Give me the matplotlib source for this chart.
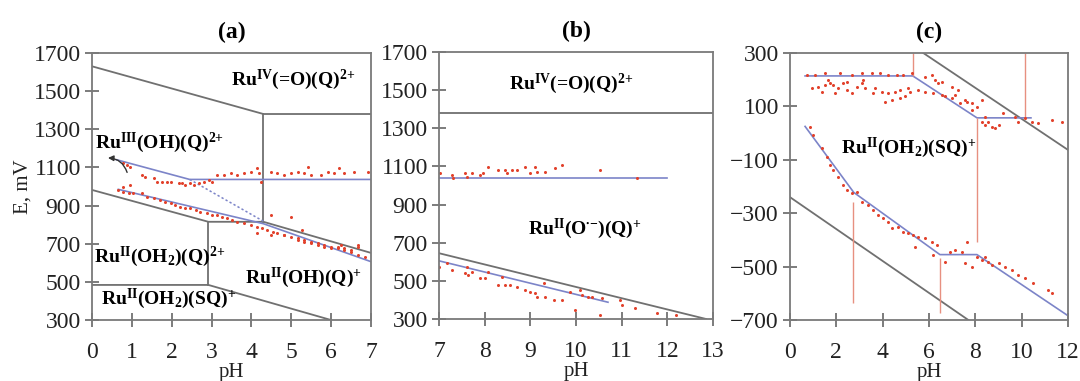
import matplotlib
matplotlib.use('Agg')
import matplotlib.pyplot as plt

plt.rcParams['font.family'] = ['Liberation Serif', 'DejaVu Serif']
plt.rcParams['mathtext.fontset'] = 'custom'
plt.rcParams['mathtext.rm'] = 'Liberation Serif'
plt.rcParams['mathtext.bf'] = 'Liberation Serif:bold'
plt.rcParams['mathtext.it'] = 'Liberation Serif:italic'

# ---- panel (a) data ----
a_up_x = [0.79, 0.87, 0.96, 1.25, 1.34, 1.55, 1.63, 1.76, 1.88, 1.97, 2.18, 2.26, 2.34, 2.47, 2.55, 2.68,
          2.80, 2.93, 3.02, 3.14, 3.31, 3.48, 3.64, 3.81, 3.98, 4.15, 4.19, 4.23, 4.48, 4.65, 4.82, 4.99,
          5.16, 5.32, 5.41, 5.49, 5.74, 5.91, 6.08, 6.21, 6.33, 6.58, 6.92, 0.79, 0.96]
a_up_y = [1122, 1113, 1104, 1060, 1052, 1043, 1025, 1025, 1025, 1025, 1017, 1017, 1008, 1017, 1008, 1017,
          1025, 1034, 1025, 1060, 1060, 1069, 1060, 1069, 1078, 1095, 1069, 1025, 1078, 1069, 1060, 1069,
          1078, 1069, 1104, 1060, 1060, 1078, 1069, 1095, 1069, 1078, 1078, 999, 1008]
a_lo_x = [0.66, 0.79, 0.92, 1.04, 1.25, 1.38, 1.55, 1.71, 1.84, 1.97, 2.09, 2.22, 2.34, 2.47, 2.60, 2.72,
          2.89, 3.02, 3.14, 3.27, 3.39, 3.52, 3.64, 3.81, 3.98, 4.15, 4.27, 4.40, 4.48, 4.53, 4.65, 4.82,
          4.99, 4.99, 5.16, 5.28, 5.32, 5.49, 5.66, 5.83, 5.99, 6.16, 6.33, 6.50, 6.67, 4.15, 4.48, 4.82,
          5.16, 5.32, 5.49, 5.66, 5.83, 5.99, 6.16, 6.33, 6.50, 6.67, 6.84, 6.25, 6.67]
a_lo_y = [982, 973, 964, 964, 964, 947, 938, 929, 920, 912, 903, 894, 885, 885, 877, 868,
          859, 851, 851, 842, 833, 824, 816, 807, 798, 789, 781, 772, 851, 763, 754, 746,
          842, 737, 728, 772, 719, 711, 702, 693, 684, 676, 676, 667, 684, 755, 746, 746,
          720, 711, 702, 693, 685, 676, 685, 667, 658, 641, 632, 693, 693]

# ---- panel (b) data ----
b_up_x = [7.02, 7.28, 7.31, 7.57, 7.61, 7.72, 7.90, 7.97, 8.08, 8.30, 8.45, 8.48, 8.59, 8.70, 8.89, 8.99,
          9.11, 9.14, 9.32, 9.54, 9.69, 10.53, 11.33]
b_up_y = [1064, 1055, 1037, 1064, 1046, 1064, 1055, 1064, 1099, 1081, 1081, 1064, 1081, 1081, 1099, 1064,
          1099, 1072, 1072, 1090, 1107, 1081, 1037]
b_lo_x = [6.99, 7.18, 7.28, 7.61, 7.57, 7.64, 7.72, 7.90, 8.01, 8.08, 8.30, 8.37, 8.45, 8.56, 8.70, 8.89,
          8.99, 9.11, 9.14, 9.32, 9.51, 9.69, 9.29, 9.87, 9.98, 10.09, 10.13, 10.27, 10.35, 10.53, 10.57,
          10.97, 11.01, 11.30, 11.77, 12.18]
b_lo_y = [574, 592, 557, 574, 539, 530, 548, 513, 513, 548, 478, 522, 478, 478, 469, 452,
          443, 434, 417, 417, 399, 399, 487, 443, 347, 452, 426, 417, 417, 321, 408,
          399, 373, 356, 330, 321]

# ---- panel (c) data ----
c_up_x = [0.72, 1.08, 1.51, 2.16, 2.66, 3.09, 3.53, 3.89, 4.24, 4.60, 4.89, 5.25,
          0.94, 1.22, 1.37, 1.51, 1.73, 1.87, 1.94, 2.09, 2.30, 2.45, 2.66, 2.88, 3.09, 3.24, 3.60, 3.67,
          3.96, 4.24, 4.53, 4.75, 5.11, 5.18, 5.54, 5.83, 6.19, 6.55, 6.69, 6.98, 4.10, 4.39, 4.75, 4.96,
          1.65, 2.45, 3.17,
          5.83, 6.12, 6.40, 6.55, 6.98, 7.27, 7.55, 7.63, 7.84, 8.06, 8.27, 7.84, 8.42, 8.56, 8.71, 8.85,
          9.00, 8.27, 8.42, 9.21, 9.71, 10.14, 10.43, 10.72, 11.30, 11.73, 9.86, 6.26, 7.12, 7.34]
c_up_y = [218, 218, 224, 224, 218, 224, 224, 224, 218, 218, 218, 224,
          168, 174, 155, 180, 186, 180, 149, 168, 186, 161, 149, 174, 186, 168, 149, 168,
          155, 149, 155, 161, 168, 155, 161, 155, 149, 143, 137, 130, 118, 124, 130, 137,
          199, 193, 199,
          211, 218, 186, 193, 174, 161, 124, 118, 112, 99, 124, 87, 62, 43, 24, 18,
          30, 43, 30, 74, 62, 55, 43, 37, 49, 43, 43, 199, 143, 112]
c_lo_x = [0.86, 1.01, 1.37, 1.58, 1.73, 1.87, 2.09, 2.30, 2.45, 2.66, 2.88, 3.09, 3.38, 3.60, 3.81, 4.03,
          4.24, 4.39, 4.68, 4.89, 5.11, 5.32, 5.40, 5.54, 5.83, 6.12, 6.33, 6.19, 6.69, 6.91, 7.12, 7.41,
          7.63, 7.55, 7.84, 8.06, 8.27, 8.42, 8.56, 8.71, 9.00, 9.28, 9.57, 9.86, 10.14, 10.50, 11.15, 11.30]
c_lo_y = [24, -7, -57, -88, -119, -138, -163, -194, -213, -226, -219, -257, -269, -288, -307, -319,
          -332, -357, -350, -369, -375, -381, -425, -388, -394, -406, -419, -456, -481, -444, -438, -444,
          -406, -488, -500, -463, -475, -463, -481, -494, -488, -500, -513, -531, -544, -562, -587, -600]

GREY = '#707070'
BLUE = '#7c84c8'
RED = '#e2412b'
PINK = '#e79080'

ru4 = r'Ru$^{\mathbf{IV}}$(=O)(Q)$^{\mathbf{2{+}}}$'
ru3 = r'Ru$^{\mathbf{III}}$(OH)(Q)$^{\mathbf{2{+}}}$'
ru2aq = r'Ru$^{\mathbf{II}}$(OH$_{\mathbf{2}}$)(Q)$^{\mathbf{2{+}}}$'
ru2oh = r'Ru$^{\mathbf{II}}$(OH)(Q)$^{\mathbf{{+}}}$'
ru2sq = r'Ru$^{\mathbf{II}}$(OH$_{\mathbf{2}}$)(SQ)$^{\mathbf{{+}}}$'
ru2o = r'Ru$^{\mathbf{II}}$(O$^{\mathbf{\bullet{-}}}$)(Q)$^{\mathbf{{+}}}$'

fig = plt.figure(figsize=(10.8, 3.81), dpi=100)
ax_a = fig.add_axes([0.0852, 0.160, 0.2583, 0.701])
ax_b = fig.add_axes([0.4065, 0.1627, 0.2537, 0.7008])
ax_c = fig.add_axes([0.7315, 0.160, 0.2574, 0.701])


def style(ax, title):
    for s in ax.spines.values():
        s.set_color('#7a7a7a')
        s.set_linewidth(1.3)
    ax.tick_params(direction='inout', length=10, width=1.2, color='#666666',
                   labelsize=17, labelcolor='#222222')
    ax.tick_params(axis='x', pad=11)
    ax.tick_params(axis='y', pad=3)
    ax.set_xlabel('pH', fontsize=15, labelpad=0, color='#222222')
    ax.set_title(title, fontsize=17, fontweight='bold', pad=11)


# panel (a)
ax = ax_a
ax.plot([0, 4.3, 7], [1630, 1380, 1380], color=GREY, lw=1.3)
ax.plot([4.3, 4.3], [1380, 815], color=GREY, lw=1.3)
ax.plot([0, 2.92, 4.3, 7], [982, 815, 815, 652], color=GREY, lw=1.3)
ax.plot([2.92, 2.92], [815, 484], color=GREY, lw=1.3)
ax.plot([0, 2.92, 6.0], [484, 484, 300], color=GREY, lw=1.3)
ax.plot([0.62, 2.45, 7], [1140, 1037, 1037], color=BLUE, lw=1.2)
ax.plot([2.45, 4.3], [1037, 818], color=BLUE, lw=1.1, ls=(0, (1.5, 1.5)))
ax.plot([0.66, 4.3, 7], [985, 805, 606], color=BLUE, lw=1.2)
ax.plot(a_up_x, a_up_y, 'o', color=RED, ms=2.2, mew=0)
ax.plot(a_lo_x, a_lo_y, 'o', color=RED, ms=2.2, mew=0)
ax.annotate('', xy=(0.33, 1150), xytext=(0.9, 1060),
            arrowprops=dict(arrowstyle='-|>', color='#333333', lw=1.0, mutation_scale=8,
                            connectionstyle='arc3,rad=0.4'))
ax.text(5.05, 1558, ru4, fontsize=14, fontweight='bold', ha='center', va='center')
ax.text(1.7, 1228, ru3, fontsize=14, fontweight='bold', ha='center', va='center')
ax.text(1.69, 630, ru2aq, fontsize=14, fontweight='bold', ha='center', va='center')
ax.text(5.3, 520, ru2oh, fontsize=14, fontweight='bold', ha='center', va='center')
ax.text(1.92, 412, ru2sq, fontsize=14, fontweight='bold', ha='center', va='center')
ax.set_xlim(0, 7)
ax.set_ylim(300, 1700)
ax.set_xticks(range(0, 8))
ax.set_yticks(range(300, 1701, 200))
ax.set_ylabel('E, mV', fontsize=15, labelpad=1, color='#222222')
style(ax, '(a)')

# panel (b)
ax = ax_b
ax.plot([7, 13], [1380, 1380], color=GREY, lw=1.3)
ax.plot([7, 12.85], [645, 300], color=GREY, lw=1.3)
ax.plot([7, 12], [1038, 1038], color=BLUE, lw=1.2)
ax.plot([7, 10.7], [605, 388], color=BLUE, lw=1.2)
ax.plot(b_up_x, b_up_y, 'o', color=RED, ms=2.2, mew=0)
ax.plot(b_lo_x, b_lo_y, 'o', color=RED, ms=2.2, mew=0)
ax.text(9.9, 1532, ru4, fontsize=14, fontweight='bold', ha='center', va='center')
ax.text(10.2, 772, ru2o, fontsize=14, fontweight='bold', ha='center', va='center')
ax.set_xlim(7, 13)
ax.set_ylim(300, 1700)
ax.set_xticks(range(7, 14))
ax.set_yticks(range(300, 1701, 200))
style(ax, '(b)')

# panel (c)
ax = ax_c
ax.plot([5.75, 12], [300, -63], color=GREY, lw=1.3)
ax.plot([0, 7.7], [-240, -700], color=GREY, lw=1.3)
ax.plot([0.65, 5.3, 8.07, 10.4], [214, 214, 57, 57], color=BLUE, lw=1.2)
ax.plot([0.65, 2.75, 6.47, 8.07, 11.95], [25, -222, -455, -455, -681], color=BLUE, lw=1.2)
ax.vlines([5.32, 10.15, 8.07, 2.73, 6.47], [214, 55, -406, -637, -675], [300, 300, 57, -257, -469],
          color=PINK, lw=1.0)
ax.plot(c_up_x, c_up_y, 'o', color=RED, ms=2.2, mew=0)
ax.plot(c_lo_x, c_lo_y, 'o', color=RED, ms=2.2, mew=0)
ax.text(5.1, -56, ru2sq, fontsize=14, fontweight='bold', ha='center', va='center')
ax.set_xlim(0, 12)
ax.set_ylim(-700, 300)
ax.set_xticks(range(0, 13, 2))
ax.set_yticks(range(-700, 301, 200))
style(ax, '(c)')

fig.savefig('out.png', dpi=100)
